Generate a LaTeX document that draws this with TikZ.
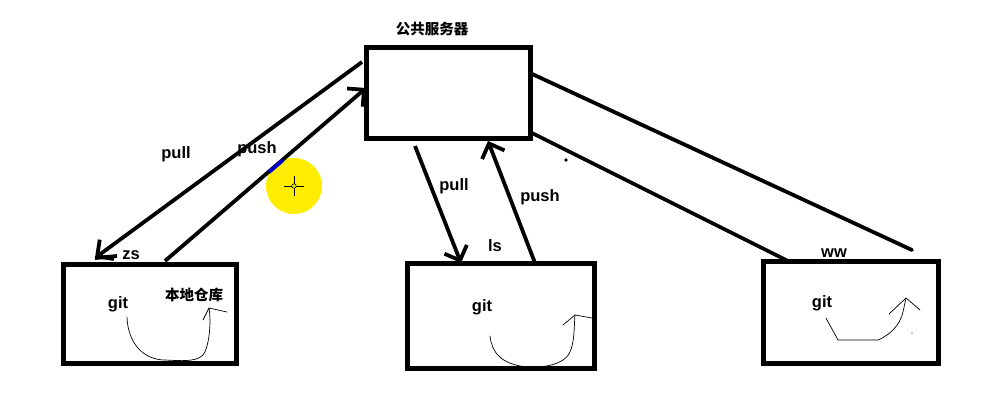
\documentclass[tikz,border=0pt]{standalone}
\usepackage{fontspec}
\setmainfont{Liberation Sans}
\newfontfamily\cjk{Noto Sans CJK SC}
\usetikzlibrary{arrows.meta}
\begin{document}
\begin{tikzpicture}[x=1pt,y=-1pt,
  boxnode/.style={draw,line width=5pt,inner sep=0pt},
  conn/.style={line width=3.8pt},
  tip/.style={-{Straight Barb[length=12pt,width=24pt,line width=3.8pt]}},
  lbl/.style={font=\bfseries\fontsize{16.5}{18}\selectfont,inner sep=0pt},
  cjklbl/.style={font=\cjk\bfseries\fontsize{14.5}{16}\selectfont,inner sep=0pt},
  hand/.style={line width=0.7pt,line join=round,line cap=round}]
\useasboundingbox[fill=white] (0,0) rectangle (984,410);
% boxes
\node[boxnode,minimum width=164pt,minimum height=91pt] (srv) at (448,92.5) {};
\node[boxnode,minimum width=173pt,minimum height=99pt] (zs) at (149.5,313.5) {};
\node[boxnode,minimum width=187pt,minimum height=105pt] (ls) at (500.5,315.5) {};
\node[boxnode,minimum width=175pt,minimum height=102pt] (ww) at (850.5,312) {};
% connector endpoints
\coordinate (a1) at (362,62);
\coordinate (a2) at (95,258);
\coordinate (b1) at (165,261);
\coordinate (b2) at (366,88);
\coordinate (c1) at (415,146);
\coordinate (c2) at (461,263);
\coordinate (d1) at (535,263);
\coordinate (d2) at (488,141);
\coordinate (e1) at (530,73);
\coordinate (e2) at (912,250);
\coordinate (f1) at (530,132);
\coordinate (f2) at (790,262);
% cursor highlight
\fill[yellow!95!orange] (294,186) circle (28);
\draw[line width=0.8pt] (284,186) -- (304,186) (294,176) -- (294,196);
\draw[line width=0.6pt,fill=yellow] (294,186) circle (2.2);
\fill (566,160) circle (1.8);
% connectors
\draw[conn,tip] (a1) -- (a2);
\draw[conn] (a2) -- ++(22,-2);
\draw[conn,tip] (b1) -- (b2);
\draw[line width=3.8pt,blue!80!black] (269,172) -- (283,160);
\draw[conn,tip] (c1) -- (c2);
\draw[conn,tip] (d1) -- (d2);
\draw[conn,line cap=round] (e1) -- (e2);
\draw[conn] (f1) -- (f2);
% labels
\node[cjklbl] (t0) at (432,29) {公共服务器};
\node[lbl] (t1) at (176,154) {pull};
\node[lbl] (t2) at (257,149) {push};
\node[lbl] (t3) at (131,255) {zs};
\node[lbl] (t4) at (118,304) {git};
\node[cjklbl] (t5) at (194,295) {本地仓库};
\node[lbl] (t6) at (454,186) {pull};
\node[lbl] (t7) at (540,197) {push};
\node[lbl] (t8) at (495,246) {ls};
\node[lbl] (t9) at (482,307) {git};
\node[lbl] (t10) at (834,253) {ww};
\node[lbl] (t11) at (822,303) {git};
% hand-drawn arcs
\draw[hand] (127,317) .. controls (128,345) and (145,360) .. (165,360)
  .. controls (185,361) and (200,362) .. (205,352)
  .. controls (210,340) and (211,320) .. (209,308);
\draw[hand] (203,320) -- (209,308) -- (227,312);
\draw[hand] (490,336) .. controls (492,352) and (500,364) .. (527,367)
  .. controls (545,368) and (563,364) .. (569,354)
  .. controls (575,343) and (574,325) .. (575,315);
\draw[hand] (563,325) -- (575,315) -- (592,318);
\draw[hand] (826,318) -- (838,340) -- (878,340)
  .. controls (890,335) and (900,325) .. (903,312) -- (906,298);
\draw[hand] (889,314) -- (906,298) -- (920,310);
\fill (912,333) circle (0.6);
\end{tikzpicture}
\end{document}
